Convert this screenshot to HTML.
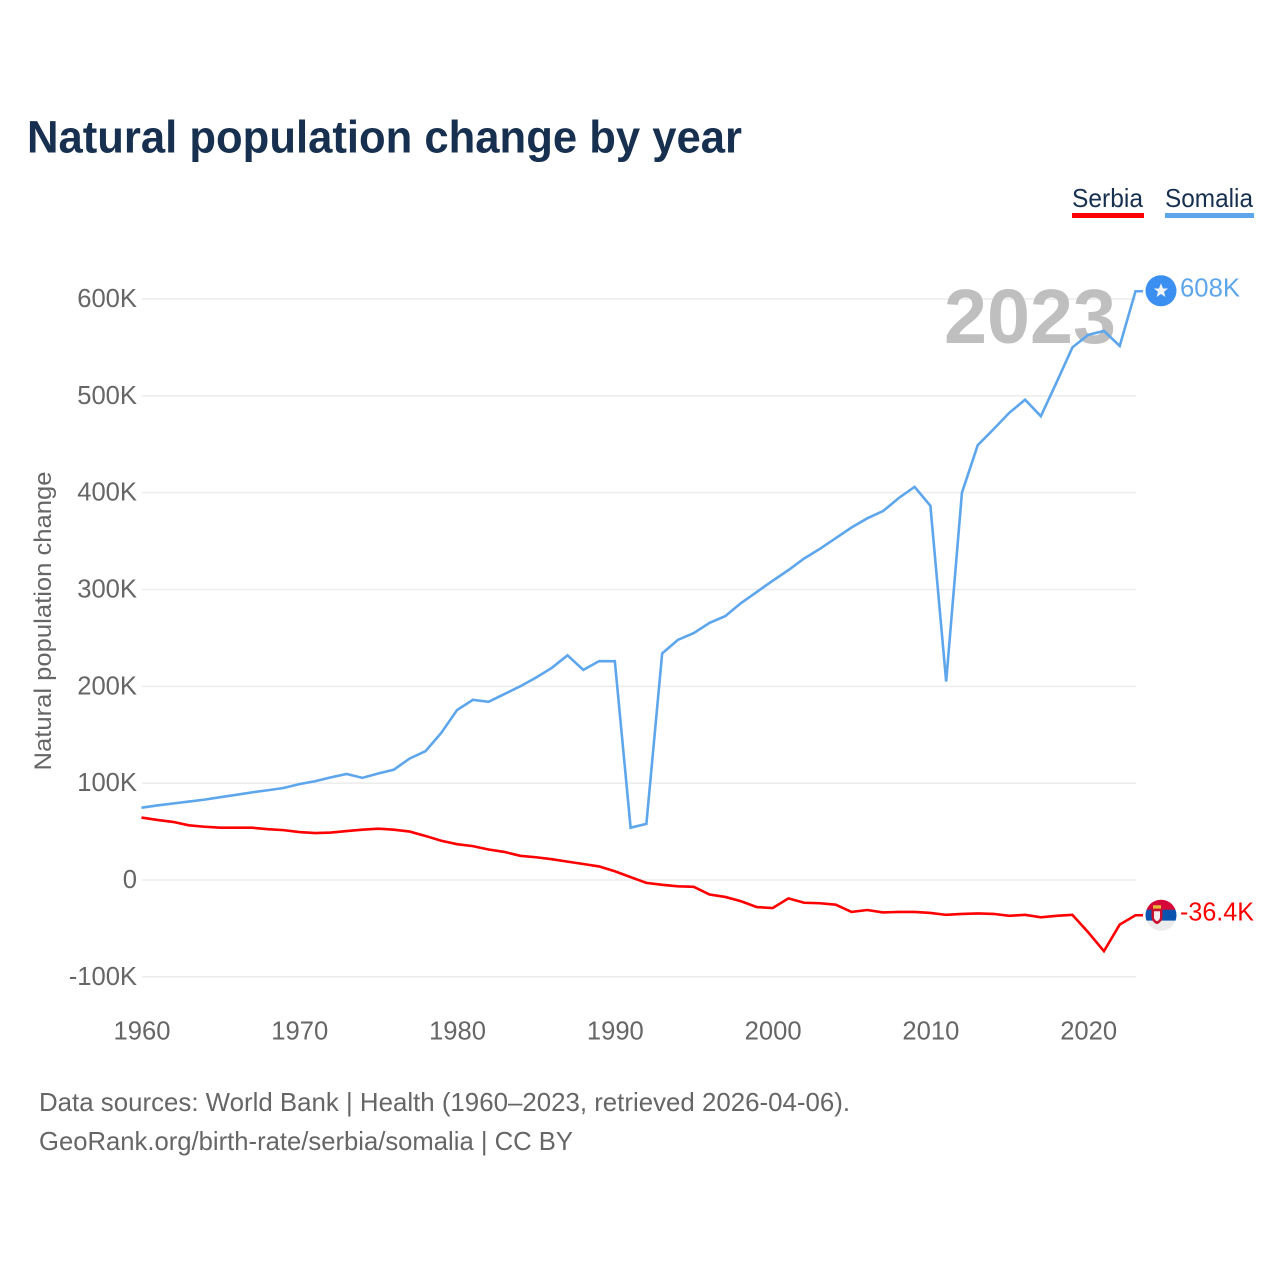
<!DOCTYPE html>
<html lang="en">
<head>
<meta charset="utf-8">
<title>Natural population change by year</title>
<style>
html,body{margin:0;padding:0;background:#fff;width:1280px;height:1280px;overflow:hidden}
svg{display:block;font-family:"Liberation Sans",sans-serif}
</style>
</head>
<body>
<svg id="chart" xmlns="http://www.w3.org/2000/svg" width="1280" height="1280" viewBox="0 0 1280 1280">
  <rect width="1280" height="1280" fill="#fff"/>
  <text x="27" y="152.5" font-size="45" font-weight="700" fill="#17304f" textLength="715" lengthAdjust="spacingAndGlyphs">Natural population change by year</text>

  <g>
    <text x="1072" y="207" font-size="26" fill="#17304f" textLength="71" lengthAdjust="spacingAndGlyphs">Serbia</text>
    <rect x="1072" y="213" width="72" height="5" fill="#ff0000"/>
  </g>
  <g>
    <text x="1165" y="207" font-size="26" fill="#17304f" textLength="88" lengthAdjust="spacingAndGlyphs">Somalia</text>
    <rect x="1165" y="213" width="89" height="5" fill="#5ea6ec"/>
  </g>

  <g id="grid"></g>
  <g id="yticks"></g>
  <g id="xticks"></g>

  <text x="944" y="343" font-size="77" font-weight="700" fill="#bfbfbf" textLength="172" lengthAdjust="spacingAndGlyphs">2023</text>

  <text transform="translate(51,621) rotate(-90)" text-anchor="middle" font-size="24.5" fill="#666" textLength="299" lengthAdjust="spacingAndGlyphs">Natural population change</text>

  <g id="series"></g>

  <g id="somalia-end">
    <circle cx="1161" cy="0" r="15.5" fill="#3a8ff0"/>
    <polygon fill="#f2f6fc" points="1161,-7.5 1163,-2.3 1168.1,-2.3 1164,1 1165.4,6.2 1161,3.2 1156.6,6.2 1158,1 1153.9,-2.3 1159,-2.3"/>
  </g>
  <text id="somalia-value" x="1180" font-size="26" fill="#5ea6ec" textLength="60" lengthAdjust="spacingAndGlyphs"></text>

  <defs>
    <clipPath id="flag-clip"><circle cx="1161" cy="0" r="15.5"/></clipPath>
  </defs>
  <g id="serbia-end">
    <g clip-path="url(#flag-clip)">
      <rect x="1145" y="-16" width="32" height="11" fill="#d5083a"/>
      <rect x="1145" y="-5.5" width="32" height="11" fill="#0a54b0"/>
      <rect x="1145" y="5.5" width="32" height="11" fill="#ececec"/>
      <rect x="1153" y="-10" width="8" height="3.5" fill="#e8b83a"/>
      <path d="M1151.5,-6.5 h11 v8 q0,5 -5.5,7.5 q-5.5,-2.5 -5.5,-7.5 z" fill="#c8102e"/>
      <path d="M1154,-4 h6 v6 q0,2.5 -3,4 q-3,-1.5 -3,-4 z" fill="#f4eeee"/>
    </g>
  </g>
  <text id="serbia-value" x="1180" font-size="26" fill="#ff0000" textLength="74" lengthAdjust="spacingAndGlyphs"></text>

  <text x="39" y="1111" font-size="26" fill="#666" textLength="811" lengthAdjust="spacingAndGlyphs">Data sources: World Bank | Health (1960–2023, retrieved 2026-04-06).</text>
  <text x="39" y="1150" font-size="26" fill="#666" textLength="534" lengthAdjust="spacingAndGlyphs">GeoRank.org/birth-rate/serbia/somalia | CC BY</text>
</svg>
<script>
const startYear = 1960;
const somaliaValues = [74.7,77,79,81,83,85.5,88,90.5,92.7,95,99,102,106,109.5,105.5,110,114,125.5,133,152,175.5,186,184,192,200,209,219,232,217,226,226,54,58,234,248,255,265.5,272.5,286,297.5,309,320,332,342,353,364,373.5,381,394.5,406,386.5,205,400,449,465.5,482.5,496,479,514,550,563,567,551.5,608];
const serbiaValues = [64.5,62,60,56.5,55,54,54,54,52.5,51.5,49.5,48.5,49,50.5,52,53,52,50,45.5,40.5,37,35,31.5,29,25,23.5,21.5,19,16.5,14,9,3,-3,-5,-6.5,-7,-15,-17.5,-22,-28,-29,-19,-23.5,-24,-25.5,-33,-31,-33.5,-33,-33,-34,-36,-35,-34.5,-35,-37,-36,-38.5,-37,-36,-54,-73.5,-46,-36.4];
const yTickValues = [-100,0,100,200,300,400,500,600];
const yTickLabels = ["-100K","0","100K","200K","300K","400K","500K","600K"];
const xTickYears = [1960,1970,1980,1990,2000,2010,2020];
const somaliaEndLabel = "608K";
const serbiaEndLabel = "-36.4K";

const NS = "http://www.w3.org/2000/svg";
function xScale(year){ return 141.5 + (year - 1960) * (1135.5 - 141.5) / 63; }
function yScale(v){ return 880 - v * (880 - 299) / 600; }
function make(tag, attrs){
  const el = document.createElementNS(NS, tag);
  for (const k in attrs) el.setAttribute(k, attrs[k]);
  return el;
}

const grid = document.getElementById('grid');
const yticks = document.getElementById('yticks');
yTickValues.forEach(function(v, i){
  const line = make('line', {x1:142, x2:1136, y1:yScale(v), y2:yScale(v), stroke:'#ececec', 'stroke-width':1.5});
  
  
  grid.appendChild(line);
  const t = make('text', {x:137, y:yScale(v) + 8, 'text-anchor':'end', 'font-size':25.6, fill:'#666'});
  
  
  t.textContent = yTickLabels[i];
  yticks.appendChild(t);
});

const xticks = document.getElementById('xticks');
xTickYears.forEach(function(year){
  const t = make('text', {x:xScale(year) + 0.5, y:1039.5, 'text-anchor':'middle', 'font-size':25.6, fill:'#666'});
  
  
  t.textContent = year;
  xticks.appendChild(t);
});

function linePoints(values){
  const pts = values.map(function(v, i){ return xScale(startYear + i).toFixed(2) + ',' + yScale(v).toFixed(2); });
  const last = yScale(values[values.length - 1]).toFixed(2);
  pts.push('1143,' + last);
  return pts.join(' ');
}
const seriesGroup = document.getElementById('series');
const somaliaLine = make('polyline', {points:linePoints(somaliaValues), fill:'none', stroke:'#5ea6ec', 'stroke-width':2.6, 'stroke-linejoin':'miter'});


seriesGroup.appendChild(somaliaLine);
const serbiaLine = make('polyline', {points:linePoints(serbiaValues), fill:'none', stroke:'#ff0000', 'stroke-width':2.6, 'stroke-linejoin':'miter'});


seriesGroup.appendChild(serbiaLine);

const somaliaEndY = yScale(somaliaValues[somaliaValues.length - 1]);
const serbiaEndY = yScale(serbiaValues[serbiaValues.length - 1]);
document.getElementById('somalia-end').setAttribute('transform', 'translate(0,' + (somaliaEndY - 0.5) + ')');
document.getElementById('serbia-end').setAttribute('transform', 'translate(0,' + serbiaEndY + ')');
const somaliaValueText = document.getElementById('somalia-value');
somaliaValueText.setAttribute('y', somaliaEndY + 5);
somaliaValueText.textContent = somaliaEndLabel;
const serbiaValueText = document.getElementById('serbia-value');
serbiaValueText.setAttribute('y', serbiaEndY + 5.5);
serbiaValueText.textContent = serbiaEndLabel;
</script>
</body>
</html>
